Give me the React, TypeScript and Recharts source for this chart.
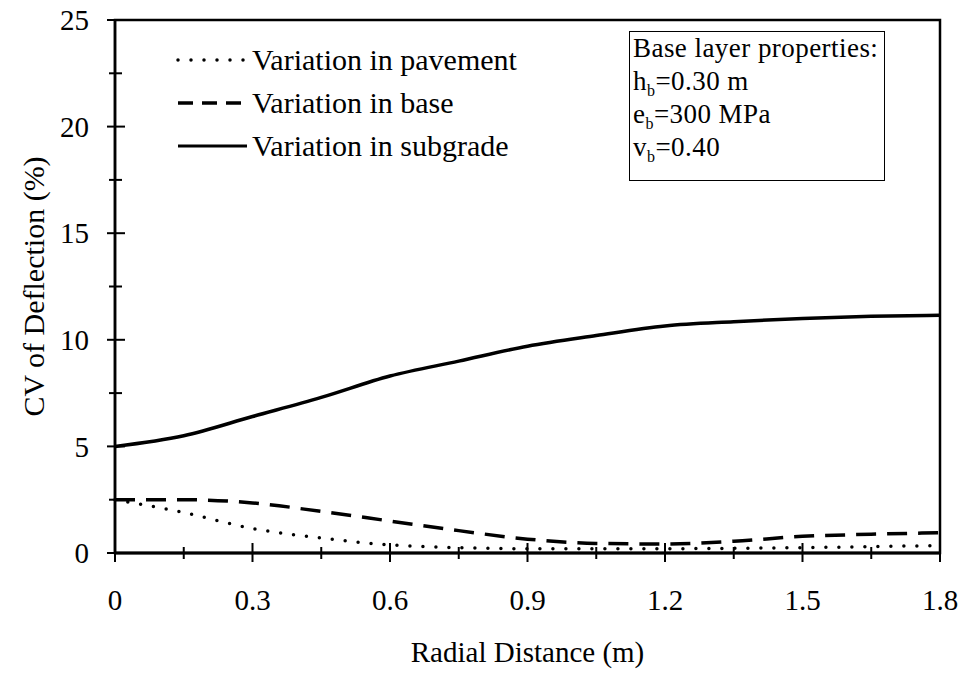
import React from 'react';
import * as Recharts from 'recharts';

const {
    LineChart,
    Line,
    XAxis,
    YAxis,
    Legend,
    ReferenceArea
} = Recharts;

// radial distance (m)
const distance = [0, 0.15, 0.3, 0.45, 0.6, 0.75, 0.9, 1.05, 1.2, 1.35, 1.5, 1.65, 1.8];
// CV of deflection (%)
const pavement = [2.5, 1.9, 1.15, 0.7, 0.38, 0.25, 0.2, 0.2, 0.2, 0.22, 0.25, 0.3, 0.35];
const base = [2.5, 2.5, 2.35, 1.95, 1.5, 1.05, 0.65, 0.45, 0.42, 0.55, 0.78, 0.88, 0.95];
const subgrade = [5.0, 5.5, 6.4, 7.3, 8.3, 9.0, 9.7, 10.2, 10.65, 10.85, 11.0, 11.1, 11.15];

const xTicks = [0, 0.15, 0.3, 0.45, 0.6, 0.75, 0.9, 1.05, 1.2, 1.35, 1.5, 1.65, 1.8];
const yTicks = [0, 2.5, 5, 7.5, 10, 12.5, 15, 17.5, 20, 22.5, 25];

const seriesKeys = ['pavement', 'base', 'subgrade'];
const seriesNames = ['Variation in pavement', 'Variation in base', 'Variation in subgrade'];

const FONT = '"Liberation Serif", "Times New Roman", Times, serif';

const chartData = distance.map((x, i) => ({
    x,
    pavement: pavement[i],
    base: base[i],
    subgrade: subgrade[i],
}));

const legendStyle: Record<string, { dash?: string; width: number; cap: 'round' | 'butt' }> = {
    pavement: { dash: '0 13', width: 3.5, cap: 'round' },
    base: { dash: '15 9', width: 3.5, cap: 'butt' },
    subgrade: { width: 3, cap: 'butt' },
};

const XTick = (props: any) => {
    const { x, y, payload, index } = props;
    const major = index % 2 === 0;
    const v = payload.value;
    return (
        <g>
            <line x1={x} x2={x} y1={y - (major ? 10 : 6)} y2={y + (major ? 9 : 6)} stroke="#000" strokeWidth={2} />
            {major && (
                <text x={x} y={y + 47} dy="0.35em" textAnchor="middle" fontSize={29} fontFamily={FONT} fill="#000">
                    {v === 0 ? '0' : v.toFixed(1)}
                </text>
            )}
        </g>
    );
};

const YTick = (props: any) => {
    const { x, y, payload } = props;
    const major = payload.value % 5 === 0;
    return (
        <g>
            <line x1={x - (major ? 8 : 6)} x2={x + (major ? 10 : 7)} y1={y} y2={y} stroke="#000" strokeWidth={2} />
            {major && (
                <text x={x - 26} y={y} dy="0.35em" textAnchor="end" fontSize={29} fontFamily={FONT} fill="#000">
                    {payload.value}
                </text>
            )}
        </g>
    );
};

const YTitle = (props: any) => {
    const { viewBox } = props;
    const cx = viewBox.x + 33;
    const cy = viewBox.y + viewBox.height / 2;
    return (
        <text x={cx} y={cy} dy="0.35em" textAnchor="middle" transform={`rotate(-90, ${cx}, ${cy})`}
            fontSize={30} fontFamily={FONT} fill="#000">
            CV of Deflection (%)
        </text>
    );
};

const renderLegend = () => (
    <div style={{ fontFamily: FONT, fontSize: 30, color: '#000' }}>
        {seriesKeys.map((key, i) => {
            const s = legendStyle[key];
            return (
                <div key={key} style={{ display: 'flex', alignItems: 'center', height: 43 }}>
                    <svg width={75} height={10} style={{ marginRight: 1 }}>
                        <line x1={2} x2={71} y1={5} y2={5} stroke="#000" strokeWidth={s.width}
                            strokeDasharray={s.dash} strokeLinecap={s.cap} />
                    </svg>
                    <span style={{ lineHeight: '43px', whiteSpace: 'nowrap' }}>{seriesNames[i]}</span>
                </div>
            );
        })}
    </div>
);

const subStyle: React.CSSProperties = { fontSize: 16, verticalAlign: 'sub', lineHeight: 0 };

const App: React.FC = () => {
    return (
        <div style={{ position: 'absolute', left: 0, top: 0, width: 968, height: 673, background: '#fff' }}>
            <LineChart width={968} height={673} data={chartData} margin={{ top: 20, right: 28, bottom: 0, left: 0 }}>
                <XAxis
                    dataKey="x"
                    type="number"
                    domain={[0, 1.8]}
                    ticks={xTicks}
                    interval={0}
                    height={120}
                    tickSize={0}
                    tickMargin={0}
                    tick={<XTick />}
                    axisLine={{ stroke: '#000', strokeWidth: 3 }}
                    label={{
                        value: 'Radial Distance (m)',
                        position: 'insideBottom',
                        offset: 11,
                        fontSize: 29,
                        fontFamily: FONT,
                        fill: '#000',
                    }}
                />
                <YAxis
                    type="number"
                    domain={[0, 25]}
                    ticks={yTicks}
                    interval={0}
                    width={115}
                    tickSize={0}
                    tickMargin={0}
                    tick={<YTick />}
                    axisLine={{ stroke: '#000', strokeWidth: 2.5 }}
                    label={<YTitle />}
                />
                <ReferenceArea x1={0} x2={1.8} y1={0} y2={25} fill="none" stroke="#000" strokeWidth={2.5} />
                <Legend
                    layout="vertical"
                    align="center"
                    verticalAlign="middle"
                    content={renderLegend}
                    wrapperStyle={{ position: 'absolute', left: 176, top: 38, width: 360, height: 129 }}
                />
                <Line type="monotone" dataKey="pavement" name={seriesNames[0]} stroke="#000" strokeWidth={3.5}
                    strokeDasharray="0 13" strokeLinecap="round" dot={false} isAnimationActive={false} />
                <Line type="monotone" dataKey="base" name={seriesNames[1]} stroke="#000" strokeWidth={3.5}
                    strokeDasharray="20 11" dot={false} isAnimationActive={false} />
                <Line type="monotone" dataKey="subgrade" name={seriesNames[2]} stroke="#000" strokeWidth={3.5}
                    dot={false} isAnimationActive={false} />
            </LineChart>
            <div style={{
                position: 'absolute', left: 629, top: 31, width: 256, height: 150,
                border: '1.5px solid #000', boxSizing: 'border-box', padding: '0px 3px',
                fontFamily: FONT, fontSize: 27, letterSpacing: 0.45, lineHeight: '33px', color: '#000', whiteSpace: 'nowrap',
            }}>
                <div>Base layer properties:</div>
                <div>h<span style={subStyle}>b</span>=0.30 m</div>
                <div>e<span style={subStyle}>b</span>=300 MPa</div>
                <div>v<span style={subStyle}>b</span>=0.40</div>
            </div>
        </div>
    );
};

export default App;
